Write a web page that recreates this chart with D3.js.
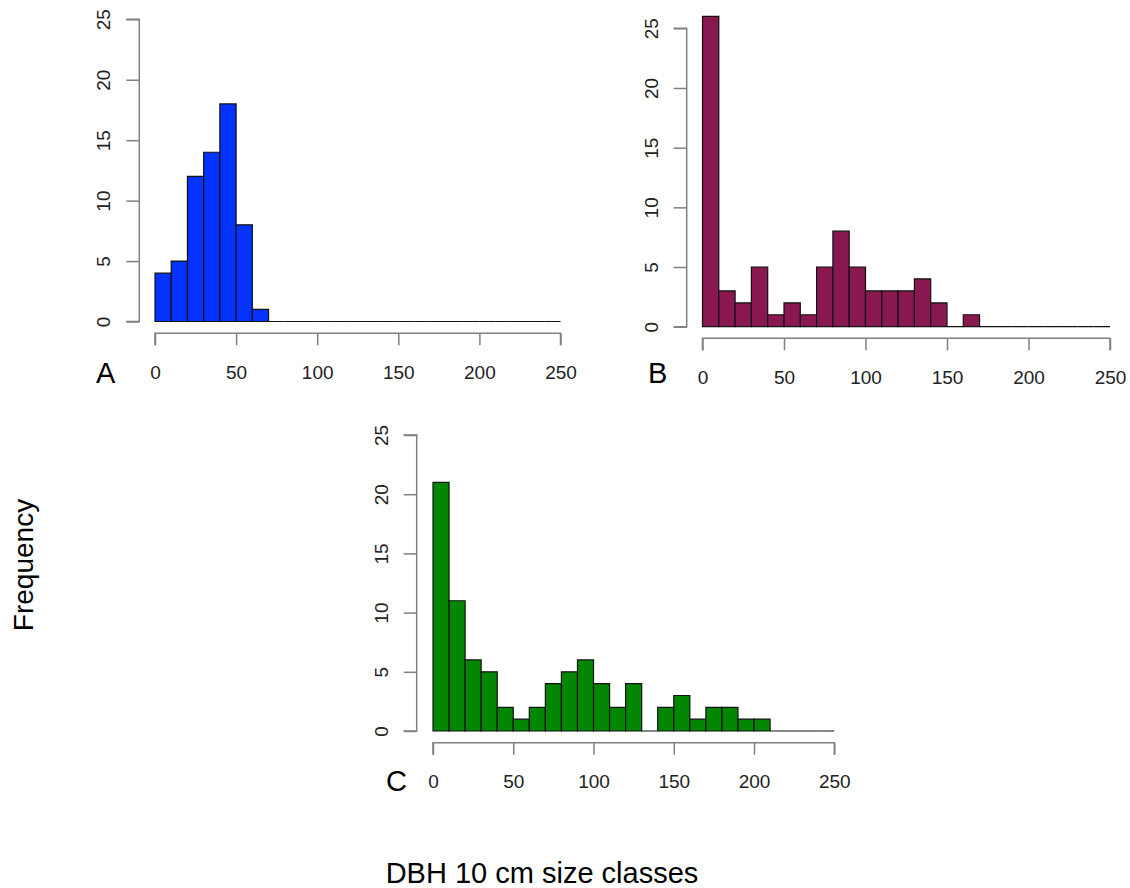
<!DOCTYPE html>
<html>
<head>
<meta charset="utf-8">
<script src="https://cdn.jsdelivr.net/npm/d3@7"></script>
<style>
  html, body { margin: 0; padding: 0; background: #fff; }
  svg { display: block; font-family: "Liberation Sans", Arial, Helvetica, sans-serif; }
</style>
</head>
<body>
<svg id="chart" width="1130" height="888"></svg>
<script>
// DBH size classes: 10 cm bins from 0 to 250
const binEdges = d3.range(0, 260, 10);
const xTicks = [0, 50, 100, 150, 200, 250];
const yTicks = [0, 5, 10, 15, 20, 25];

// Tree counts per 10 cm class (25 classes, 0–250)
const countsA = [4, 5, 12, 14, 18, 8, 1, 0, 0, 0, 0, 0, 0, 0, 0, 0, 0, 0, 0, 0, 0, 0, 0, 0, 0];
const countsB = [26, 3, 2, 5, 1, 2, 1, 5, 8, 5, 3, 3, 3, 4, 2, 0, 1, 0, 0, 0, 0, 0, 0, 0, 0];
const countsC = [21, 11, 6, 5, 2, 1, 2, 4, 5, 6, 4, 2, 4, 0, 2, 3, 1, 2, 2, 1, 1, 0, 0, 0, 0];

const panelLabels = ["A", "B", "C"];
const panelColors = ["#0433ff", "#8a1850", "#038703"];

// Plot frames for each panel (pixel geometry)
const frames = [
  { x0: 155.0, x1: 560.5, yBase: 321.5, yTop25: 19.3, axisY: 333.3, yAxisX: 139.3, lab: [96, 383] },
  { x0: 702.5, x1: 1110.0, yBase: 326.7, yTop25: 28.3, axisY: 338.3, yAxisX: 686.7, lab: [648, 383] },
  { x0: 433.0, x1: 834.3, yBase: 731.0, yTop25: 435.0, axisY: 742.7, yAxisX: 416.7, lab: [386, 791] }
];

const seriesList = [countsA, countsB, countsC];
const svg = d3.select("#chart");

const axisColor = "#808080";
const textColor = "#222";

seriesList.forEach((counts, i) => {
  const f = frames[i];
  const x = d3.scaleLinear().domain([0, 250]).range([f.x0, f.x1]);
  const y = d3.scaleLinear().domain([0, 25]).range([f.yBase, f.yTop25]);
  const g = svg.append("g");

  const bins = counts.map((c, k) => ({ lo: binEdges[k], hi: binEdges[k + 1], n: c }));

  // bars as closed paths so empty classes still show their outline on the baseline
  g.selectAll("path.bar")
    .data(bins)
    .join("path")
    .attr("class", "bar")
    .attr("d", d => `M${x(d.lo)},${y(0)}V${y(d.n)}H${x(d.hi)}V${y(0)}Z`)
    .attr("fill", panelColors[i])
    .attr("stroke", "#111")
    .attr("stroke-width", 1.2);

  // x axis
  const xAxis = d3.axisBottom(x).tickValues(xTicks).tickSize(12).tickPadding(8).tickFormat(d3.format("d"));
  const gx = g.append("g").attr("transform", `translate(0,${f.axisY})`).call(xAxis);
  gx.select(".domain").attr("d", `M${x(0)},12V0H${x(250)}V12`).attr("stroke", axisColor).attr("stroke-width", 1.5);
  gx.selectAll(".tick line").attr("stroke", axisColor).attr("stroke-width", 1.5);
  gx.selectAll(".tick text")
    .attr("fill", textColor)
    .attr("font-size", 19)
    .attr("font-family", "Liberation Sans, Arial, sans-serif")
    .attr("dy", null)
    .attr("y", 45.5);

  // y axis
  const yAxis = d3.axisLeft(y).tickValues(yTicks).tickSize(13).tickPadding(0).tickFormat(d3.format("d"));
  const gy = g.append("g").attr("transform", `translate(${f.yAxisX},0)`).call(yAxis);
  gy.select(".domain").attr("d", `M-13,${y(0)}H0V${y(25)}H-13`).attr("stroke", axisColor).attr("stroke-width", 1.5);
  gy.selectAll(".tick line").attr("stroke", axisColor).attr("stroke-width", 1.5);
  gy.selectAll(".tick text")
    .attr("fill", textColor)
    .attr("font-size", 19)
    .attr("font-family", "Liberation Sans, Arial, sans-serif")
    .attr("x", null)
    .attr("dy", null)
    .attr("text-anchor", "middle")
    .attr("transform", "translate(-29,0) rotate(-90)");

  // panel letter
  svg.append("text")
    .attr("x", f.lab[0])
    .attr("y", f.lab[1])
    .attr("font-size", 29)
    .attr("fill", "#000")
    .text(panelLabels[i]);
});

// shared axis titles
svg.append("text")
  .attr("transform", "translate(33,565) rotate(-90)")
  .attr("text-anchor", "middle")
  .attr("font-size", 28)
  .attr("fill", "#000")
  .text("Frequency");

svg.append("text")
  .attr("x", 542)
  .attr("y", 883)
  .attr("text-anchor", "middle")
  .attr("font-size", 29)
  .attr("fill", "#000")
  .text("DBH 10 cm size classes");
</script>
</body>
</html>
